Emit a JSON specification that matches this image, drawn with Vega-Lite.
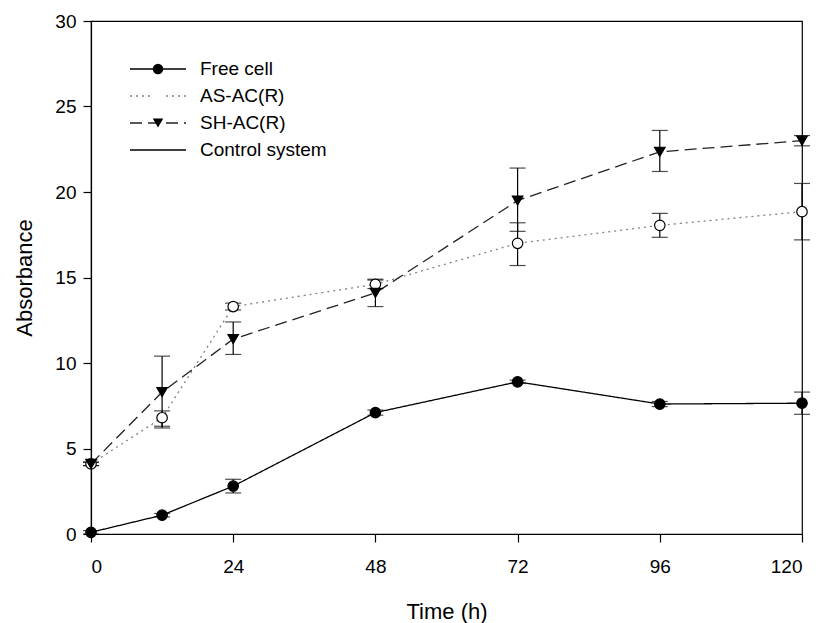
{
  "$schema": "https://vega.github.io/schema/vega-lite/v6.json",
  "width": 711,
  "height": 513,
  "autosize": {"type": "none"},
  "padding": {"left": 91, "top": 21, "right": 17, "bottom": 89},
  "background": "white",
  "config": {
    "font": "Liberation Sans",
    "view": {"stroke": "black", "strokeWidth": 1.2},
    "axis": {
      "grid": false,
      "domainColor": "black",
      "domainWidth": 1.2,
      "tickColor": "black",
      "tickWidth": 1.2,
      "tickSize": 8,
      "labelColor": "black",
      "labelFont": "Liberation Sans",
      "labelFontSize": 19,
      "titleColor": "black",
      "titleFont": "Liberation Sans",
      "titleFontSize": 22,
      "titleFontWeight": "normal"
    }
  },
  "data": {
    "values": [
      {"series": "Free cell", "time": 0, "value": 0.1, "lo": 0.0, "hi": 0.2},
      {"series": "Free cell", "time": 12, "value": 1.1, "lo": 1.0, "hi": 1.2},
      {"series": "Free cell", "time": 24, "value": 2.8, "lo": 2.4, "hi": 3.2},
      {"series": "Free cell", "time": 48, "value": 7.1, "lo": 6.95, "hi": 7.25},
      {"series": "Free cell", "time": 72, "value": 8.9, "lo": 8.8, "hi": 9.0},
      {"series": "Free cell", "time": 96, "value": 7.6, "lo": 7.45, "hi": 7.75},
      {"series": "Free cell", "time": 120, "value": 7.65, "lo": 7.0, "hi": 8.3},
      {"series": "AS-AC(R)", "time": 0, "value": 4.1, "lo": 4.0, "hi": 4.2},
      {"series": "AS-AC(R)", "time": 12, "value": 6.8, "lo": 6.3, "hi": 7.2},
      {"series": "AS-AC(R)", "time": 24, "value": 13.3, "lo": 13.1, "hi": 13.5},
      {"series": "AS-AC(R)", "time": 48, "value": 14.6, "lo": 14.35, "hi": 14.85},
      {"series": "AS-AC(R)", "time": 72, "value": 17.0, "lo": 15.7, "hi": 18.2},
      {"series": "AS-AC(R)", "time": 96, "value": 18.05, "lo": 17.35, "hi": 18.75},
      {"series": "AS-AC(R)", "time": 120, "value": 18.85, "lo": 17.2, "hi": 20.5},
      {"series": "SH-AC(R)", "time": 0, "value": 4.1, "lo": 4.0, "hi": 4.2},
      {"series": "SH-AC(R)", "time": 12, "value": 8.3, "lo": 6.2, "hi": 10.4},
      {"series": "SH-AC(R)", "time": 24, "value": 11.4, "lo": 10.5, "hi": 12.4},
      {"series": "SH-AC(R)", "time": 48, "value": 14.1, "lo": 13.3, "hi": 14.9},
      {"series": "SH-AC(R)", "time": 72, "value": 19.5, "lo": 17.7, "hi": 21.4},
      {"series": "SH-AC(R)", "time": 96, "value": 22.35, "lo": 21.2, "hi": 23.6},
      {"series": "SH-AC(R)", "time": 120, "value": 23.0, "lo": 22.7, "hi": 23.3}
    ]
  },
  "layer": [
    {
      "mark": {"type": "line", "strokeWidth": 1.3, "clip": false},
      "encoding": {
        "x": {
          "field": "time", "type": "quantitative",
          "scale": {"domain": [0, 120], "nice": false},
          "axis": {"values": [0, 24, 48, 72, 96, 120], "labelPadding": 15, "titlePadding": 25},
          "title": "Time (h)"
        },
        "y": {
          "field": "value", "type": "quantitative",
          "scale": {"domain": [0, 30], "nice": false},
          "axis": {"values": [0, 5, 10, 15, 20, 25, 30], "labelPadding": 7, "titlePadding": 18},
          "title": "Absorbance"
        },
        "stroke": {
          "field": "series", "type": "nominal",
          "scale": {
            "domain": ["Free cell", "AS-AC(R)", "SH-AC(R)", "Control system"],
            "range": ["#000000", "#808080", "#222222", "#000000"]
          },
          "legend": {
            "orient": "none", "legendX": 38, "legendY": 34.5, "title": null,
            "symbolType": "stroke", "symbolSize": 3136, "symbolStrokeWidth": 1.3,
            "clipHeight": 27, "rowPadding": 0, "padding": 0, "labelOffset": 13,
            "labelFont": "Liberation Sans", "labelFontSize": 19, "labelColor": "black"
          }
        },
        "strokeDash": {
          "field": "series", "type": "nominal",
          "scale": {
            "domain": ["Free cell", "AS-AC(R)", "SH-AC(R)", "Control system"],
            "range": [[1, 0], [2, 4], [12, 6], [1, 0]]
          },
          "legend": {
            "orient": "none", "legendX": 38, "legendY": 34.5, "title": null,
            "symbolType": "stroke", "symbolSize": 3136, "symbolStrokeWidth": 1.3,
            "clipHeight": 27, "rowPadding": 0, "padding": 0, "labelOffset": 13,
            "labelFont": "Liberation Sans", "labelFontSize": 19, "labelColor": "black"
          }
        }
      }
    },
    {
      "mark": {"type": "rule", "color": "black", "strokeWidth": 1.2, "clip": false},
      "encoding": {
        "x": {"field": "time", "type": "quantitative", "title": "Time (h)"},
        "y": {"field": "lo", "type": "quantitative", "title": "Absorbance"},
        "y2": {"field": "hi"}
      }
    },
    {
      "mark": {"type": "tick", "orient": "horizontal", "color": "black", "size": 16, "thickness": 1.2, "clip": false},
      "encoding": {
        "x": {"field": "time", "type": "quantitative", "title": "Time (h)"},
        "y": {"field": "lo", "type": "quantitative", "title": "Absorbance"}
      }
    },
    {
      "mark": {"type": "tick", "orient": "horizontal", "color": "black", "size": 16, "thickness": 1.2, "clip": false},
      "encoding": {
        "x": {"field": "time", "type": "quantitative", "title": "Time (h)"},
        "y": {"field": "hi", "type": "quantitative", "title": "Absorbance"}
      }
    },
    {
      "mark": {"type": "point", "filled": true, "stroke": "black", "strokeWidth": 1.2, "size": 110, "opacity": 1, "clip": false},
      "encoding": {
        "x": {"field": "time", "type": "quantitative", "title": "Time (h)"},
        "y": {"field": "value", "type": "quantitative", "title": "Absorbance"},
        "shape": {
          "field": "series", "type": "nominal",
          "scale": {"domain": ["Free cell", "AS-AC(R)", "SH-AC(R)"], "range": ["circle", "circle", "triangle-down"]},
          "legend": {
            "orient": "none", "legendX": 57.5, "legendY": 34.5, "title": null,
            "symbolSize": 110, "symbolStrokeColor": "black", "symbolStrokeWidth": 1.2,
            "clipHeight": 27, "rowPadding": 0, "padding": 0, "labelExpr": "''",
            "labelFontSize": 19
          }
        },
        "fill": {
          "field": "series", "type": "nominal",
          "scale": {"domain": ["Free cell", "AS-AC(R)", "SH-AC(R)"], "range": ["black", "white", "black"]},
          "legend": {
            "orient": "none", "legendX": 57.5, "legendY": 34.5, "title": null,
            "symbolSize": 110, "symbolStrokeColor": "black", "symbolStrokeWidth": 1.2,
            "clipHeight": 27, "rowPadding": 0, "padding": 0, "labelExpr": "''",
            "labelFontSize": 19
          }
        }
      }
    }
  ]
}
